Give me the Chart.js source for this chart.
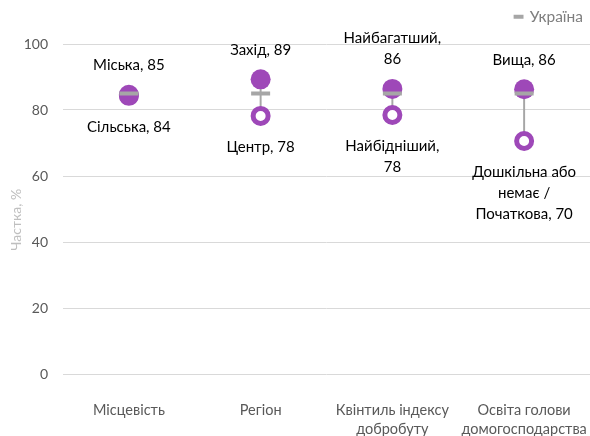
<!DOCTYPE html>
<html lang="uk">

<head>
    <meta charset="UTF-8">
    <title>Частка, %</title>
    <style>
        body { margin: 0; background: #ffffff; }
    </style>
</head>

<body>
    <div style="width: 590px; height: 436px;">
        <canvas id="myChart"></canvas>
    </div>

    <script src="https://cdn.jsdelivr.net/npm/chart.js"></script>
    <script>
        // категорії та значення
        const categories = [['Місцевість'], ['Регіон'], ['Квінтиль індексу', 'добробуту'], ['Освіта голови', 'домогосподарства']];
        const highValues = [84.6, 89.3, 86.4, 86.3];
        const lowValues = [84.3, 78.2, 78.5, 70.6];
        const ukraineValues = [85, 85, 85, 85];
        const highLabels = [['Міська, 85'], ['Захід, 89'], ['Найбагатший,', '86'], ['Вища, 86']];
        const lowLabels = [['Сільська, 84'], ['Центр, 78'], ['Найбідніший,', '78'], ['Дошкільна або', 'немає /', 'Початкова, 70']];
        const yTicks = [0, 20, 40, 60, 80, 100];

        const v_font = "Lato, 'Liberation Sans', sans-serif";
        const v_purple = '#9e48b8';
        const v_gray = '#a6a6a6';

        // відрізок між мінімумом і максимумом
        let rangeData = [];
        for (let i = 0; i < highValues.length; i++) {
            rangeData.push([Math.min(highValues[i], lowValues[i]), Math.max(highValues[i], lowValues[i])]);
        }

        // підписи біля точок
        const pointLabels = {
            id: 'pointLabels',
            afterDatasetsDraw(chart) {
                const ctx = chart.ctx;
                const x = chart.scales.x;
                const y = chart.scales.y;
                const lh = 21;
                ctx.save();
                ctx.font = '15px ' + v_font;
                ctx.fillStyle = '#000000';
                ctx.textAlign = 'center';
                ctx.textBaseline = 'middle';
                for (let i = 0; i < categories.length; i++) {
                    let px = x.getPixelForValue(i);
                    let top = y.getPixelForValue(highValues[i]) - 29.5;
                    let lines = highLabels[i];
                    for (let j = 0; j < lines.length; j++) {
                        ctx.fillText(lines[j], px, top - (lines.length - 1 - j) * lh);
                    }
                    let bottom = y.getPixelForValue(lowValues[i]) + 31;
                    lines = lowLabels[i];
                    for (let j = 0; j < lines.length; j++) {
                        ctx.fillText(lines[j], px, bottom + j * lh);
                    }
                }
                ctx.restore();
            }
        };

        // легенда вища, щоб графік починався нижче
        const legendSpace = {
            id: 'legendSpace',
            afterInit(chart) {
                const orig = chart.legend.fit;
                chart.legend.fit = function () {
                    orig.bind(chart.legend)();
                    this.height = 42;
                };
            }
        };

        const ctx = document.getElementById("myChart");

        let v_chart = new Chart(ctx, {
            type: 'bar',
            data: {
                labels: categories,
                datasets: [{
                    type: 'line',
                    label: 'Україна',
                    data: ukraineValues,
                    showLine: false,
                    pointStyle: 'line',
                    pointRadius: 9.5,
                    pointHoverRadius: 9.5,
                    borderWidth: 4,
                    borderColor: v_gray,
                    backgroundColor: v_gray
                }, {
                    type: 'line',
                    label: 'high',
                    data: highValues,
                    showLine: false,
                    pointRadius: 10,
                    pointHoverRadius: 10,
                    pointBorderWidth: 0,
                    pointBackgroundColor: v_purple,
                    borderColor: v_purple
                }, {
                    type: 'line',
                    label: 'low',
                    data: lowValues,
                    showLine: false,
                    pointRadius: 7.5,
                    pointHoverRadius: 7.5,
                    pointBorderWidth: 5,
                    pointBackgroundColor: '#ffffff',
                    pointBorderColor: v_purple,
                    borderColor: v_purple
                }, {
                    label: 'range',
                    data: rangeData,
                    backgroundColor: v_gray,
                    barThickness: 1.3
                }]
            },
            options: {
                responsive: true,
                maintainAspectRatio: false,
                animation: false,
                layout: {
                    autoPadding: false,
                    padding: { left: 4, right: 0, top: 2, bottom: 0 }
                },
                plugins: {
                    tooltip: { enabled: false },
                    legend: {
                        position: 'top',
                        align: 'end',
                        labels: {
                            filter: (item) => item.text == 'Україна',
                            usePointStyle: true,
                            boxHeight: 7,
                            boxWidth: 7,
                            padding: 7,
                            color: '#7f7f7f',
                            font: { family: v_font, size: 15.5 }
                        }
                    }
                },
                scales: {
                    x: {
                        grid: { display: false },
                        border: { display: false },
                        afterFit: (axis) => {
                            axis.height = 62;
                            axis.paddingLeft = 0;
                            axis.paddingRight = 0;
                        },
                        ticks: {
                            color: '#595959',
                            padding: 19,
                            maxRotation: 0,
                            font: { family: v_font, size: 14.5, lineHeight: 1.3 }
                        }
                    },
                    y: {
                        min: 0,
                        max: 100,
                        border: { display: false },
                        grid: { color: '#d9d9d9', drawTicks: false },
                        afterBuildTicks: (axis) => { axis.ticks = yTicks.map(v => ({ value: v })); },
                        afterFit: (axis) => { axis.width = 59; },
                        ticks: {
                            color: '#595959',
                            padding: 15,
                            font: { family: v_font, size: 14 }
                        },
                        title: {
                            display: true,
                            text: 'Частка, %      ',
                            color: '#bfbfbf',
                            font: { family: v_font, size: 14 }
                        }
                    }
                }
            },
            plugins: [pointLabels, legendSpace]
        });
    </script>

</body>

</html>
